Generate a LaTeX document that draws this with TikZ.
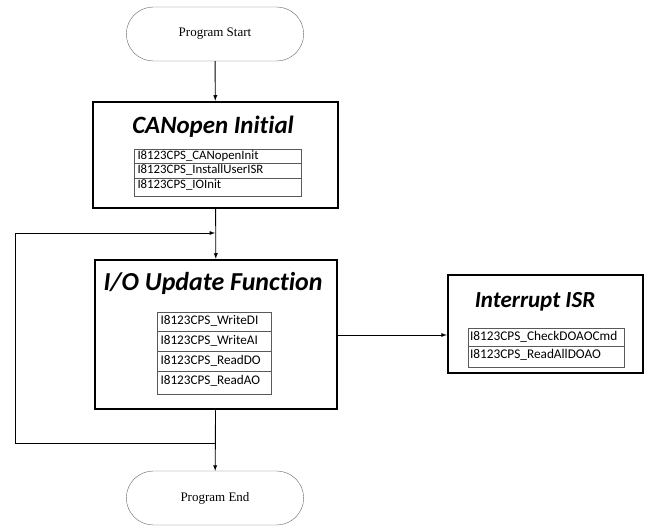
\documentclass[tikz,border=0pt]{standalone}
\usepackage{fontspec}
\setmainfont{Liberation Serif}
\setsansfont{Carlito}[Ligatures=NoCommon]
\usetikzlibrary{shapes.misc, arrows, positioning}
\tikzstyle{terminal} = [rounded rectangle, minimum width=184pt, minimum height=54pt, text centered, draw=black!60, font=\fontsize{13}{15}\selectfont]
\tikzstyle{block} = [rectangle, draw=black, line width=2.5pt]
\tikzstyle{heading} = [font=\sffamily\bfseries\itshape]
\tikzstyle{row} = [rectangle, draw=black!65, line width=0.6pt, outer sep=0pt, inner xsep=3.5pt, inner ysep=0pt, text height=9pt, text depth=2.5pt, align=left]
\tikzstyle{initrow} = [row, text width=160pt, font=\sffamily\fontsize{12.8}{15}\selectfont]
\tikzstyle{updaterow} = [row, text width=107pt, font=\sffamily\fontsize{13.2}{15}\selectfont]
\tikzstyle{isrrow} = [row, inner xsep=2pt, text width=152pt, font=\sffamily\fontsize{13.3}{15}\selectfont]
\tikzstyle{arrow} = [line width=0.9pt,->,>=latex]

\begin{document}
\begin{tikzpicture}[x=1pt, y=-1pt]
\useasboundingbox (0,0) rectangle (653,526);

\node (start) [terminal] at (215,34) {Program Start};

\node (init) [block, minimum width=245pt, minimum height=106pt] at (215.5,155) {};
\node (init title) [heading] at (213,127) {\fontsize{24.9}{29}\selectfont CANopen Initial};
\node (init a) [initrow, minimum height=14pt, anchor=north west] at (134,149) {I8123CPS\_CANopenInit};
\node (init b) [initrow, minimum height=15pt, below=0pt of init a] {I8123CPS\_InstallUserISR};
\node (init c) [initrow, minimum height=18pt, text depth=5.5pt, below=0pt of init b] {I8123CPS\_IOInit};

\node (update) [block, minimum width=242pt, minimum height=149pt] at (216,334.5) {};
\node (update title) [heading] at (213,283) {\fontsize{25.9}{30}\selectfont I/O Update Function};
\node (update a) [updaterow, minimum height=19pt, anchor=north west] at (157,312) {I8123CPS\_WriteDI};
\node (update b) [updaterow, minimum height=20pt, below=0pt of update a] {I8123CPS\_WriteAI};
\node (update c) [updaterow, minimum height=20pt, below=0pt of update b] {I8123CPS\_ReadDO};
\node (update d) [updaterow, minimum height=23pt, text depth=5.5pt, below=0pt of update c] {I8123CPS\_ReadAO};

\node (isr) [block, minimum width=195pt, minimum height=98pt] at (545.5,324) {};
\node (isr title) [heading] at (535,302) {\fontsize{23}{27}\selectfont Interrupt ISR};
\node (isr a) [isrrow, minimum height=18pt, anchor=north west] at (468,328) {I8123CPS\_CheckDOAOCmd};
\node (isr b) [isrrow, minimum height=21pt, text depth=5.5pt, below=0pt of isr a] {I8123CPS\_ReadAllDOAO};

\node (finish) [terminal] at (215,498) {Program End};

\coordinate (loop in) at (215,233);
\coordinate (loop out) at (215,443);

\draw [arrow] (start) -- (init);
\draw [arrow] (init) -- (update);
\draw [arrow] (loop out) -- ++(-200,0) |- (loop in);
\draw [arrow] (update.east |- 0,335) -- (isr.west |- 0,335);
\draw [arrow] (update) -- (finish);

\end{tikzpicture}
\end{document}
